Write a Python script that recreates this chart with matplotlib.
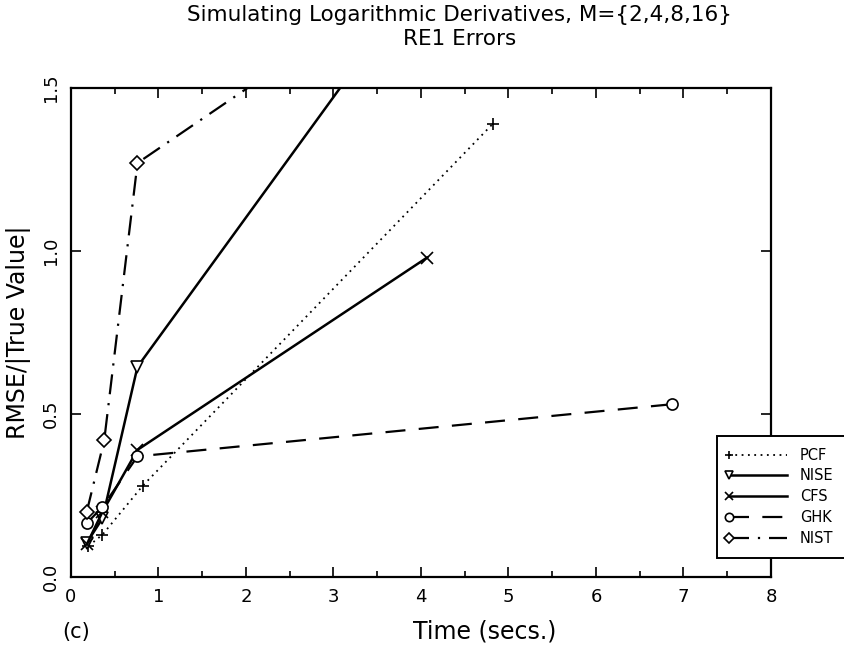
import numpy as np
import matplotlib
matplotlib.use("Agg")
import matplotlib.pyplot as plt
from matplotlib.legend_handler import HandlerLine2D

# timings (secs.) and RMSE/|true value| for M = 2, 4, 8, 16
pcf_t = [0.20, 0.36, 0.82, 4.82]
pcf_e = [0.095, 0.13, 0.28, 1.39]
nise_t = [0.18, 0.36, 0.76, 3.40]
nise_e = [0.105, 0.18, 0.645, 1.62]
cfs_t = [0.18, 0.36, 0.76, 4.07]
cfs_e = [0.10, 0.20, 0.39, 0.98]
ghk_t = [0.18, 0.36, 0.76, 6.87]
ghk_e = [0.165, 0.215, 0.37, 0.53]
nist_t = [0.18, 0.38, 0.76, 2.40]
nist_e = [0.20, 0.42, 1.27, 1.57]


class MarkerAtStart(HandlerLine2D):
    # put the legend symbol at the left end of the sample line
    def create_artists(self, *args, **kwargs):
        arts = super().create_artists(*args, **kwargs)
        for a in arts:
            a.set_markevery([0])
        return arts


plt.rcParams['font.family'] = ['DejaVu Sans']
fig = plt.figure(figsize=(8.45, 6.49), dpi=100)
ax = fig.add_axes([71/845, 1-577/649, 700/845, 489/649])

mk = dict(markersize=8, markerfacecolor='white', markeredgecolor='black',
          markeredgewidth=1.2, color='black')
ax.plot(pcf_t, pcf_e, marker='+', linestyle=(0, (1, 2.5)), lw=1.3,
        label='PCF', **mk)
ax.plot(nise_t, nise_e, marker='v', linestyle='-', lw=1.8,
        label='NISE', **mk)
ax.plot(cfs_t, cfs_e, marker='x', linestyle='-', lw=1.8,
        label='CFS', **mk)
ax.plot(ghk_t, ghk_e, marker='o', linestyle=(0, (9, 6)), lw=1.6,
        label='GHK', **mk)
ax.plot(nist_t, nist_e, marker='D', linestyle=(0, (9, 4, 1, 4)), lw=1.6,
        label='NIST', **dict(mk, markersize=7))

ax.set_xlim(0, 8)
ax.set_ylim(0, 1.5)
ax.set_xticks(np.arange(0, 9, 1))
ax.set_xticks(np.arange(0.5, 8, 1), minor=True)
ax.set_yticks([0.0, 0.5, 1.0, 1.5])
ax.set_yticklabels(['0.0', '0.5', '1.0', '1.5'], rotation=90, va='center')
ax.tick_params(which='both', direction='in', top=True, right=True,
               labelsize=13, width=1.2)
ax.tick_params(which='major', length=7, pad=8)
ax.tick_params(which='minor', length=4)
for s in ax.spines.values():
    s.set_linewidth(1.6)

ax.set_ylabel('RMSE/|True Value|', fontsize=17, labelpad=8)
fig.text(485/845, 1-632/649, 'Time (secs.)', fontsize=17,
         ha='center', va='center')
fig.text(62/845, 1-632/649, '(c)', fontsize=15, va='center')
fig.text(0.544, 1-15/649,
         'Simulating Logarithmic Derivatives, M={2,4,8,16}',
         ha='center', va='center', fontsize=15.5)
fig.text(0.544, 1-39/649, 'RE1 Errors', ha='center', va='center',
         fontsize=15.5)

leg = ax.legend(loc='upper left',
                bbox_to_anchor=(717/845, 1-558/649, 140/845, 122/649),
                bbox_transform=fig.transFigure, mode='expand', fontsize=10.5,
                markerscale=0.75, handlelength=4, handletextpad=0.9,
                labelspacing=0.4, borderpad=0.8, borderaxespad=0,
                fancybox=False, framealpha=1, edgecolor='black',
                handler_map={matplotlib.lines.Line2D: MarkerAtStart(numpoints=1)})
leg.get_frame().set_linewidth(1.4)
leg.set_zorder(5)

fig.savefig('out.png', dpi=100)
